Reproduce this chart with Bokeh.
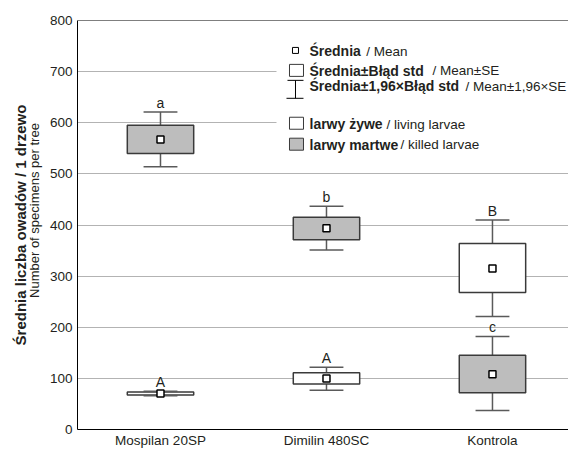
import numpy as np
from bokeh.plotting import figure
from bokeh.models import Range1d, FixedTicker, LinearAxis, Span, Label
from bokeh.embed import file_html
from bokeh.resources import INLINE
from bokeh.core.properties import value

# ---------------- data ----------------
categories = ["Mospilan 20SP", "Dimilin 480SC", "Kontrola"]

# larwy martwe / killed larvae
killed_mean = [567, 393.5, 108]
killed_se_lo = [540, 371, 72]
killed_se_hi = [595, 415, 145]
killed_ci_lo = [514, 351, 37]
killed_ci_hi = [621, 436.5, 182]
killed_letters = ["a", "b", "c"]

# larwy żywe / living larvae
living_mean = [70.5, 100, 315]
living_se_lo = [67.5, 89, 268]
living_se_hi = [73.5, 111, 364]
living_ci_lo = [66, 77, 221]
living_ci_hi = [75, 122, 410]
living_letters = ["A", "A", "B"]

y_ticks = [0, 100, 200, 300, 400, 500, 600, 700, 800]

# ---------------- style ----------------
FONT = "Liberation Sans"
TXT = "#231f20"
BOX_LINE = "#3a3a3a"
STEM = "#5a5a5a"
GRAY = "#bdbdbd"
GRID = "#b3b3b3"
LETTER_GAP = 18  # value units between whisker cap and letter baseline

p = figure(width=568, height=450, x_range=Range1d(0, 2.958), y_range=Range1d(0, 800),
           output_backend="svg", toolbar_location=None,
           min_border_left=77, min_border_right=0, min_border_top=20, min_border_bottom=20)
p.outline_line_color = None
p.background_fill_color = "white"
p.border_fill_color = "white"

xs = np.arange(len(categories)) + 0.5

# x axis
p.xaxis.ticker = FixedTicker(ticks=list(xs))
p.xaxis.major_label_overrides = {float(x): c for x, c in zip(xs, categories)}
p.xaxis.major_tick_out = 0
p.xaxis.major_tick_in = 0
p.xaxis.minor_tick_out = 0
p.xaxis.minor_tick_in = 0
p.xaxis.axis_line_color = "black"
p.xaxis.major_label_standoff = 3
p.xaxis.major_label_text_font = FONT
p.xaxis.major_label_text_font_size = "13.5px"
p.xaxis.major_label_text_color = TXT

# y axis
yax = p.yaxis[0]
yax.ticker = FixedTicker(ticks=y_ticks)
yax.major_tick_out = 0
yax.major_tick_in = 0
yax.minor_tick_out = 0
yax.minor_tick_in = 0
yax.axis_line_color = "black"
yax.major_label_standoff = 5
yax.major_label_text_font = FONT
yax.major_label_text_font_size = "13.5px"
yax.major_label_text_color = TXT
yax.axis_label = "\u00a0" * 8 + "Number of specimens per tree"
yax.axis_label_text_font = FONT
yax.axis_label_text_font_size = "13px"
yax.axis_label_text_font_style = "normal"
yax.axis_label_text_color = TXT
yax.axis_label_standoff = 5

ax2 = LinearAxis(ticker=FixedTicker(ticks=[]), axis_line_color=None,
                 major_tick_out=0, major_tick_in=0, minor_tick_out=0, minor_tick_in=0,
                 axis_label="Średnia liczba owadów / 1 drzewo",
                 axis_label_text_font=FONT, axis_label_text_font_size="15px",
                 axis_label_text_font_style="bold", axis_label_text_color=TXT,
                 axis_label_standoff=-5)
p.add_layout(ax2, "left")

# grid
p.xgrid.visible = False
p.ygrid.ticker = FixedTicker(ticks=y_ticks[1:-1])
p.ygrid.grid_line_color = GRID
p.ygrid.grid_line_width = 1
p.add_layout(Span(location=800, dimension="width", line_color="black", line_width=1))

# ---------------- boxes ----------------
def draw_group(mean, se_lo, se_hi, ci_lo, ci_hi, fill):
    p.segment(x0=xs, y0=ci_lo, x1=xs, y1=ci_hi, line_color=STEM, line_width=1.5)
    p.vbar(x=xs, width=0.4, bottom=se_lo, top=se_hi, fill_color=fill,
           line_color=BOX_LINE, line_width=1.5)
    for yy in (ci_lo, ci_hi):
        p.segment(x0=xs - 0.102, y0=yy, x1=xs + 0.102, y1=yy, line_color=STEM, line_width=1.5)
    p.scatter(x=xs, y=mean, marker="square", size=7, fill_color="white",
              line_color="black", line_width=1.5)

draw_group(killed_mean, killed_se_lo, killed_se_hi, killed_ci_lo, killed_ci_hi, GRAY)
draw_group(living_mean, living_se_lo, living_se_hi, living_ci_lo, living_ci_hi, "white")

for letters, hi in ((killed_letters, killed_ci_hi), (living_letters, living_ci_hi)):
    p.text(x=xs, y=np.array(hi) + LETTER_GAP, text=letters, text_align="center",
           text_baseline="alphabetic", text_font=value(FONT), text_font_size="14px",
           text_color=TXT)

# ---------------- legend (drawn) ----------------
def X(px):
    return (px - 77) / 166.0

def Y(py):
    return (430 - py) / 0.5125

p.quad(left=[X(276)], right=[3.0], bottom=[Y(163)], top=[Y(37)],
       fill_color="white", line_color=None)

rows = [
    ("Średnia", "/ Mean", 51, 365.7),
    ("Średnia±Błąd std", "/ Mean±SE", 70.5, 432),
    ("Średnia±1,96×Błąd std", "/ Mean±1,96×SE", 86, 465),
    ("larwy żywe", "/ living larvae", 124, 386),
    ("larwy martwe", "/ killed larvae", 144.5, 400),
]
# icons
p.scatter(x=[X(295)], y=[Y(50)], marker="square", size=6, fill_color="white",
          line_color="black", line_width=1)
p.rect(x=[X(296)], y=[Y(70)], width=14, height=12, width_units="screen",
       height_units="screen", fill_color="white", line_color=BOX_LINE, line_width=1)
p.segment(x0=[X(295)], y0=[Y(80)], x1=[X(295)], y1=[Y(98)], line_color="black", line_width=1)
p.segment(x0=[X(287), X(286)], y0=[Y(80), Y(98)], x1=[X(303), X(303)], y1=[Y(80), Y(98)],
          line_color="black", line_width=1)
p.rect(x=[X(296)], y=[Y(123)], width=14, height=12, width_units="screen",
       height_units="screen", fill_color="white", line_color=BOX_LINE, line_width=1)
p.rect(x=[X(296)], y=[Y(144)], width=14, height=12, width_units="screen",
       height_units="screen", fill_color=GRAY, line_color=BOX_LINE, line_width=1)

for bold, normal, ry, nx in rows:
    p.add_layout(Label(x=X(309), y=Y(ry), text=bold, text_font=FONT, text_font_size="14px",
                       text_font_style="bold", text_color=TXT, text_baseline="middle"))
    p.add_layout(Label(x=X(nx), y=Y(ry), text=normal, text_font=FONT, text_font_size="13.5px",
                       text_font_style="normal", text_color=TXT, text_baseline="middle"))

open("out.html", "w").write(file_html(p, INLINE))
